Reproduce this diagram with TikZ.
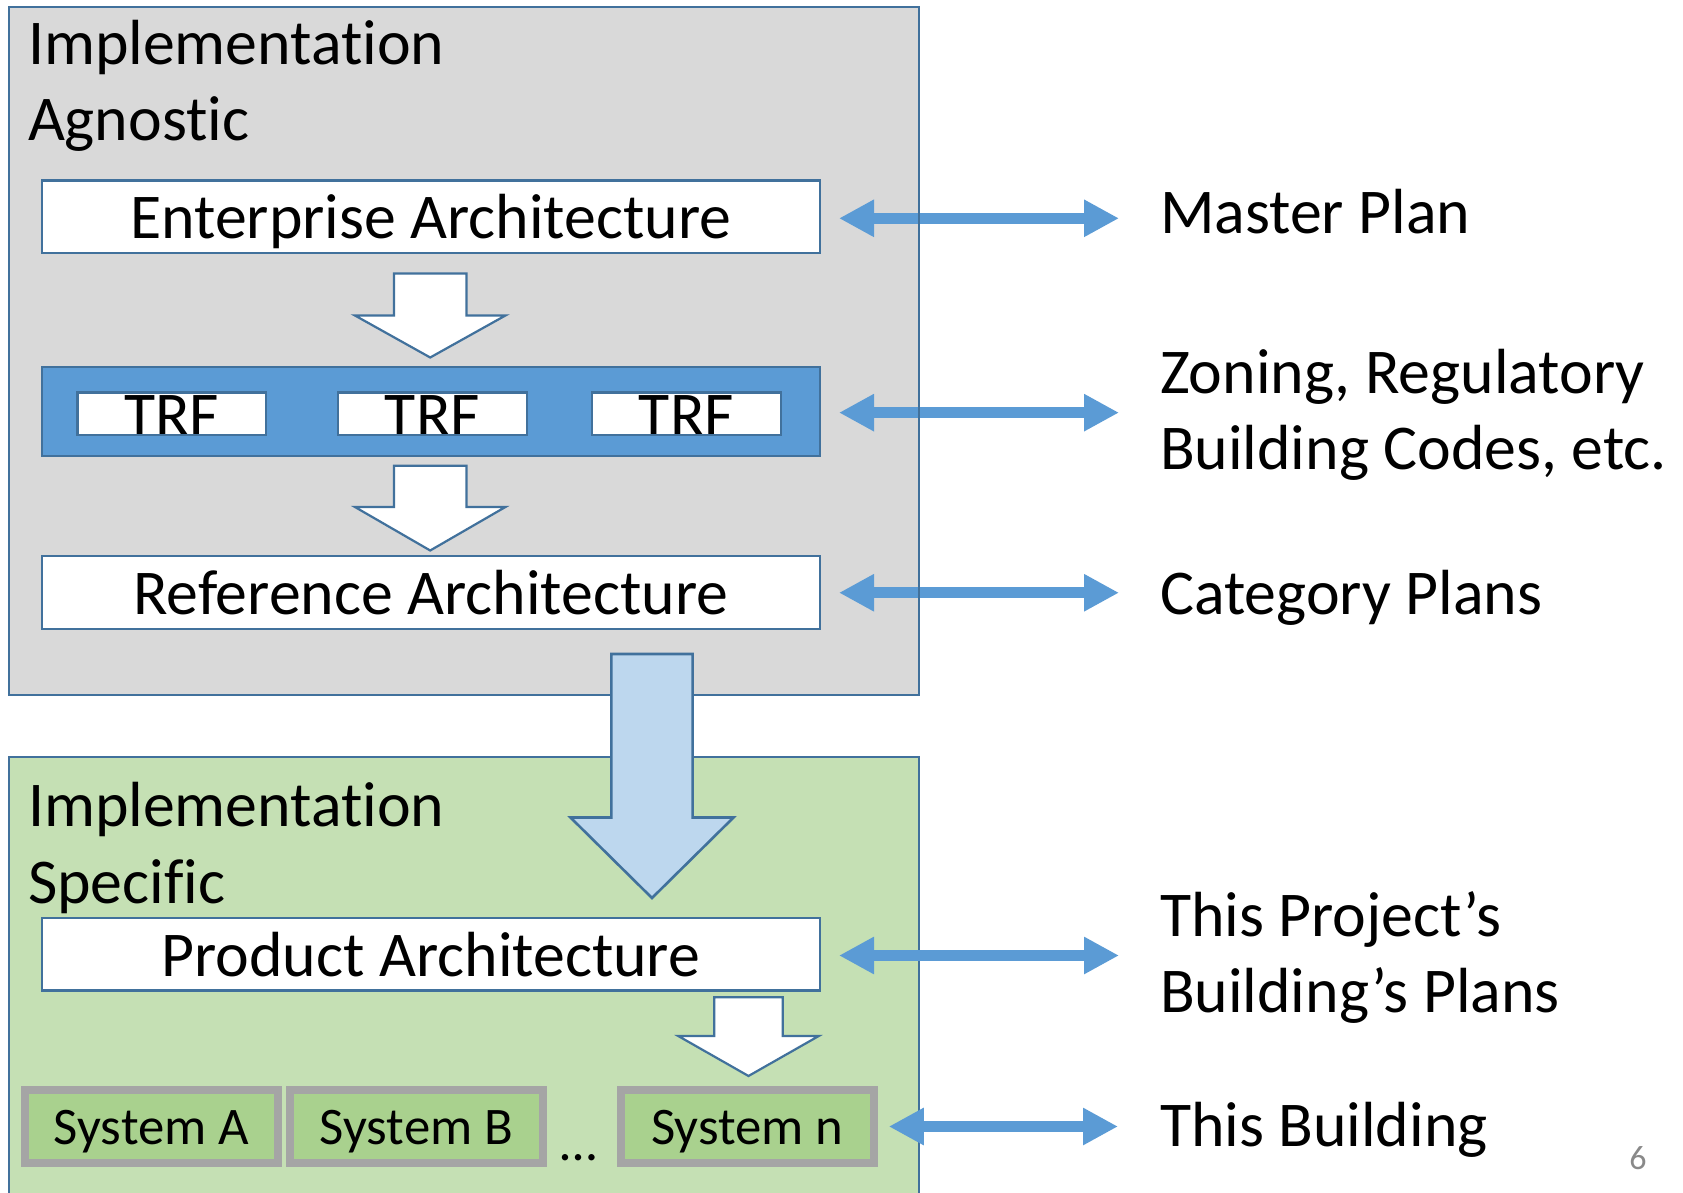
\documentclass[tikz,border=0pt]{standalone}
\usepackage{fontspec}
\setmainfont{Carlito}[Ligatures=NoCommon]
\usetikzlibrary{arrows.meta,calc}

\definecolor{paneline}{HTML}{41719C}
\definecolor{panegray}{HTML}{D9D9D9}
\definecolor{panegreen}{HTML}{C5E0B4}
\definecolor{accentblue}{HTML}{5B9BD5}
\definecolor{paleblue}{HTML}{BDD7EE}
\definecolor{sysgreen}{HTML}{A9D18E}
\definecolor{sysgray}{HTML}{A5A5A5}
\definecolor{pagenum}{HTML}{898989}

% block arrow pointing down: style, centre x, top, shaft half width, head half width, head base, tip
\newcommand\blockarrow[7]{%
  \draw[#1] (#2-#4,#3) -- (#2+#4,#3) -- (#2+#4,#6) -- (#2+#5,#6) -- (#2,#7)
    -- (#2-#5,#6) -- (#2-#4,#6) -- cycle;}

\begin{document}
\begin{tikzpicture}[x=0.5pt, y=-0.5pt, outer sep=0pt, inner sep=0pt,
  bigfont/.style={font=\fontsize{31.9}{38.2}\selectfont},
  sysfont/.style={font=\fontsize{26.4}{31}\selectfont},
  pane/.style={draw=paneline, line width=1pt, minimum width=455pt},
  archbox/.style={draw=paneline, fill=white, line width=1.1pt,
    minimum width=389.15pt, minimum height=36.4pt, bigfont,
    text height=24pt, text depth=2pt},
  band/.style={draw=paneline, fill=accentblue, line width=1.1pt,
    minimum width=389.15pt, minimum height=44.35pt},
  trfbox/.style={draw=paneline, fill=white, line width=1.1pt,
    minimum width=94.25pt, minimum height=21.25pt,
    path picture={\node[bigfont, anchor=base]
      at ([yshift=-11.4pt]path picture bounding box.center) {#1};}},
  sysbox/.style={draw=sysgray, fill=sysgreen, line width=4pt,
    minimum width=126.3pt, minimum height=36.5pt, sysfont,
    text height=18pt, text depth=0.5pt},
  hollow/.style={draw=paneline, fill=white, line width=1.1pt},
  bigarrow/.style={draw=paneline, fill=paleblue, line width=1.3pt},
  link/.style={accentblue, line width=5.65pt,
    {Triangle[length=17.5pt,width=17.5pt]}-{Triangle[length=17.5pt,width=17.5pt]}},
  sidetext/.style={bigfont, anchor=base west, align=flush left, text width=270pt}]

\useasboundingbox[fill=white] (0,0) rectangle (1683,1193);

% the two panes
\node[pane, fill=panegray, minimum height=343.75pt] (agnostic) at (464,351.25) {};
\node[pane, fill=panegreen, minimum height=226.5pt] (specific) at (464,983.5) {};

\node[sidetext] (agtitle) at (28,64.2) {Implementation\\Agnostic};
\node[sidetext] (sptitle) at (28,826.7) {Implementation\\Specific};

% architecture layers
\node[archbox] (ea) at (430.85,216.9) {Enterprise Architecture};
\node[band] (trf) at (430.85,411.65) {};
\node[trfbox=TRF] (trf1) at (171.75,413.75) {};
\node[trfbox=TRF] (trf2) at (432.5,413.75) {};
\node[trfbox=TRF] (trf3) at (686.5,413.75) {};
\node[archbox] (ra) at (430.85,592.25) {Reference Architecture};
\node[archbox] (pa) at (430.85,954) {Product Architecture};

\node[sysbox] (sysa) at (151.5,1126.5) {System A};
\node[sysbox] (sysb) at (416.5,1126.5) {System B};
\node[sysbox] (sysn) at (747.5,1126.5) {System n};
\node[sysfont, anchor=base] (dots) at (578.6,1160) {…};

% flow between the layers
\blockarrow{hollow}{430.2}{273.5}{36.25}{75.25}{315.5}{357.5}
\blockarrow{hollow}{430.2}{465.7}{36.25}{75.25}{507}{550.5}
\blockarrow{hollow}{748.5}{997.3}{34.25}{70.25}{1036}{1076}
\blockarrow{bigarrow}{652}{654}{40.65}{81.5}{817.5}{898}

% building analogy
\node[sidetext] (master) at (1160,233.3) {Master Plan};
\node[sidetext] (zoning) at (1160,393.3) {Zoning, Regulatory\\Building Codes, etc.};
\node[sidetext] (category) at (1160,614.3) {Category Plans};
\node[sidetext] (project) at (1160,936) {This Project’s\\Building’s Plans};
\node[sidetext] (building) at (1160,1146.7) {This Building};

\draw[link] ($(ea.east)+(19,1.4)$) -- ($(ea.east -| master.west)+(-41,1.4)$);
\draw[link] ($(trf.east)+(19,1)$) -- ($(trf.east -| zoning.west)+(-41,1)$);
\draw[link] ($(ra.east)+(19,0.5)$) -- ($(ra.east -| category.west)+(-41,0.5)$);
\draw[link] ($(pa.east)+(19,1.5)$) -- ($(pa.east -| project.west)+(-41,1.5)$);
\draw[link] ($(sysn.east)+(15,0)$) -- ($(sysn.east -| building.west)+(-42,0)$);

% right edge of the upper pane runs over the links
\draw[paneline, line width=1pt] (agnostic.north east) -- (agnostic.south east);

\node[font=\fontsize{17}{20}\selectfont, text=pagenum] (pageno) at (1638,1158) {6};
\end{tikzpicture}
\end{document}
